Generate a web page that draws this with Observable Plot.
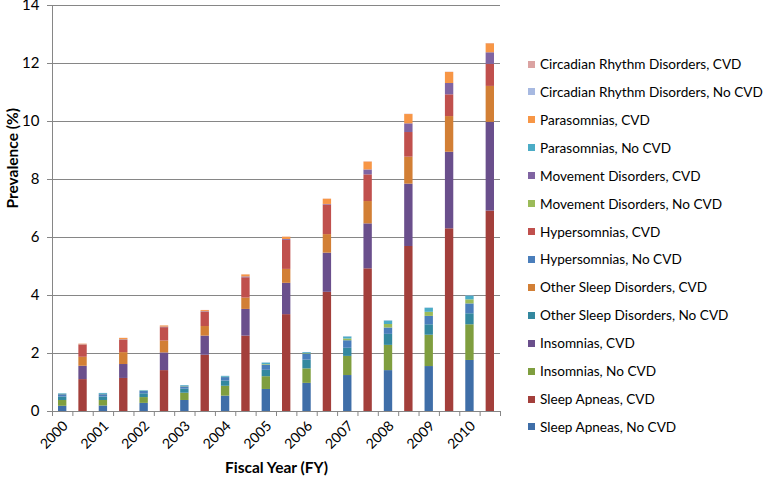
<!DOCTYPE html>
<html>
<head>
<meta charset="utf-8">
<script src="https://cdn.jsdelivr.net/npm/d3@7"></script>
<script src="https://cdn.jsdelivr.net/npm/@observablehq/plot@0.6"></script>
<style>
  html, body { margin: 0; padding: 0; background: #fff; }
  #wrap { position: relative; width: 763px; height: 483px; font-family: Lato, "Open Sans", sans-serif; }
  #legend { position: absolute; left: 528px; top: 0; width: 234px; height: 483px; }
  .item { position: absolute; left: 0; display: flex; align-items: center; font-size: 13.6px; color: #000; white-space: nowrap; }
  .sw { width: 7px; height: 7px; margin-right: 5px; flex: none; }
</style>
</head>
<body>
<div id="wrap"><div id="legend"></div></div>
<script>
const years = ["2000","2001","2002","2003","2004","2005","2006","2007","2008","2009","2010"];
const disorders = ["Sleep Apneas","Insomnias","Other Sleep Disorders","Hypersomnias","Movement Disorders","Parasomnias","Circadian Rhythm Disorders"];
const groups = ["No CVD","CVD"];

// Prevalence (%) by fiscal year
const sleepApneasNoCVD   = [0.18,0.19,0.28,0.38,0.53,0.76,0.97,1.24,1.41,1.55,1.76];
const sleepApneasCVD     = [1.10,1.14,1.41,1.94,2.60,3.34,4.11,4.92,5.69,6.30,6.91];
const insomniasNoCVD     = [0.20,0.19,0.20,0.25,0.34,0.44,0.50,0.66,0.87,1.08,1.23];
const insomniasCVD       = [0.46,0.48,0.61,0.66,0.92,1.08,1.35,1.55,2.15,2.64,3.06];
const otherNoCVD         = [0.12,0.12,0.13,0.14,0.18,0.22,0.30,0.28,0.38,0.36,0.38];
const otherCVD           = [0.31,0.41,0.41,0.33,0.39,0.48,0.64,0.77,0.93,1.23,1.24];
const hypersomniasNoCVD  = [0.08,0.08,0.08,0.08,0.12,0.18,0.20,0.26,0.22,0.29,0.34];
const hypersomniasCVD    = [0.42,0.42,0.46,0.49,0.70,1.00,1.02,0.92,0.85,0.75,0.76];
const movementNoCVD      = [0.01,0.01,0.01,0.01,0.01,0.02,0.02,0.06,0.12,0.14,0.14];
const movementCVD        = [0.01,0.02,0.02,0.02,0.03,0.03,0.02,0.17,0.30,0.39,0.40];
const parasomniasNoCVD   = [0.02,0.03,0.02,0.03,0.03,0.05,0.04,0.07,0.12,0.14,0.13];
const parasomniasCVD     = [0.02,0.05,0.04,0.04,0.07,0.08,0.18,0.27,0.32,0.38,0.31];
const circadianNoCVD     = [0.005,0.005,0.005,0.005,0.005,0.005,0.005,0.01,0.01,0.01,0.01];
const circadianCVD       = [0.005,0.005,0.005,0.005,0.005,0.005,0.005,0.01,0.01,0.01,0.01];

const seriesValues = {
  "Sleep Apneas": [sleepApneasNoCVD, sleepApneasCVD],
  "Insomnias": [insomniasNoCVD, insomniasCVD],
  "Other Sleep Disorders": [otherNoCVD, otherCVD],
  "Hypersomnias": [hypersomniasNoCVD, hypersomniasCVD],
  "Movement Disorders": [movementNoCVD, movementCVD],
  "Parasomnias": [parasomniasNoCVD, parasomniasCVD],
  "Circadian Rhythm Disorders": [circadianNoCVD, circadianCVD]
};

const seriesNames = [];
disorders.forEach(d => groups.forEach(g => seriesNames.push(`${d}, ${g}`)));
const seriesColors = {
  "Sleep Apneas, No CVD": "#3F6EA8",
  "Sleep Apneas, CVD": "#A33F3B",
  "Insomnias, No CVD": "#7F9E3F",
  "Insomnias, CVD": "#6A4F8C",
  "Other Sleep Disorders, No CVD": "#33889F",
  "Other Sleep Disorders, CVD": "#D27F35",
  "Hypersomnias, No CVD": "#4A7EBB",
  "Hypersomnias, CVD": "#C0504D",
  "Movement Disorders, No CVD": "#9BBB59",
  "Movement Disorders, CVD": "#8064A2",
  "Parasomnias, No CVD": "#4BACC6",
  "Parasomnias, CVD": "#F79646",
  "Circadian Rhythm Disorders, No CVD": "#A7B9E1",
  "Circadian Rhythm Disorders, CVD": "#DBA3A2"
};

const rows = [];
years.forEach((y, i) => {
  groups.forEach((g, gi) => {
    disorders.forEach(d => {
      rows.push({slot: 2 * i + gi, year: y, series: `${d}, ${g}`, value: seriesValues[d][gi][i]});
    });
  });
});

const gray = "#868686";
const chart = Plot.plot({
  width: 763,
  height: 483,
  marginLeft: 52,
  marginRight: 263,
  marginTop: 5,
  marginBottom: 72,
  style: {fontFamily: "Lato, 'Open Sans', sans-serif", fontSize: "14px", color: "#000", background: "#fff"},
  x: {type: "linear", domain: [0, 2 * years.length], axis: null},
  y: {domain: [0, 14], axis: null},
  color: {domain: seriesNames, range: seriesNames.map(s => seriesColors[s])},
  marks: [
    Plot.gridY(d3.range(2, 15, 2), {stroke: gray, strokeOpacity: 1, strokeWidth: 1}),
    Plot.rectY(rows, Plot.stackY({x: "slot", interval: 1, y: "value", z: "series", fill: "series", order: null, insetLeft: 6, insetRight: 6})),
    Plot.ruleY([0], {stroke: gray}),
    Plot.ruleX([0], {stroke: gray}),
    Plot.axisY(d3.range(0, 15, 2), {tickSize: 5, tickPadding: 8, stroke: gray, fontSize: 15, label: null, tickFormat: d => String(d)}),
    Plot.axisX(d3.range(0, 2 * years.length + 1), {tickSize: 5, stroke: gray, tickFormat: () => "", label: null}),
    Plot.text(years, {x: (d, i) => 2 * i + 0.5, y: () => 0, text: d => d, rotate: -45, textAnchor: "end", dx: 3, dy: 12, fontSize: 14, fill: "#000"}),
    Plot.text(["Prevalence (%)"], {frameAnchor: "left", dx: -39, rotate: -90, fontWeight: "bold", fontSize: 15.5, fill: "#000"}),
    Plot.text(["Fiscal Year (FY)"], {frameAnchor: "bottom", dy: 61, fontWeight: "bold", fontSize: 15.5, fill: "#000"})
  ]
});
document.getElementById("wrap").prepend(chart);

// Legend (reverse series order, like the reference)
const legend = document.getElementById("legend");
const legendOrder = seriesNames.slice().reverse();
legendOrder.forEach((s, i) => {
  const cy = 64 + i * 27.92;
  const item = document.createElement("div");
  item.className = "item";
  item.style.top = (cy - 10) + "px";
  item.style.height = "20px";
  const sw = document.createElement("span");
  sw.className = "sw";
  sw.style.background = seriesColors[s];
  const tx = document.createElement("span");
  tx.textContent = s;
  item.appendChild(sw);
  item.appendChild(tx);
  legend.appendChild(item);
});
</script>
</body>
</html>
